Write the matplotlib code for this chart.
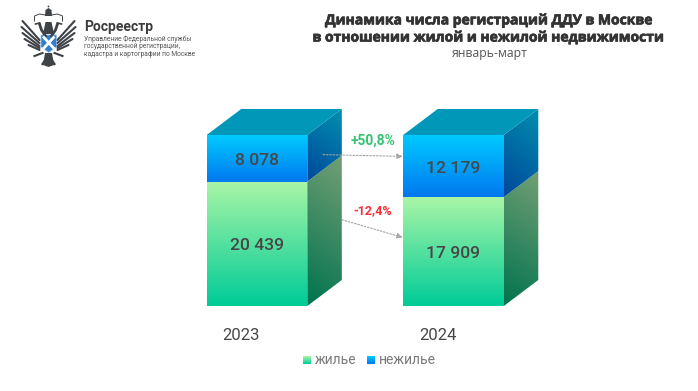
import numpy as np
import matplotlib
matplotlib.use('Agg')
import matplotlib.pyplot as plt
import matplotlib.patheffects as pe
from matplotlib.colors import LinearSegmentedColormap
from matplotlib.patches import Polygon, Circle

plt.rcParams['font.family'] = ['Roboto', 'DejaVu Sans']

years = ['2023', '2024']
housing = [20439, 17909]
non_housing = [8078, 12179]
labels_housing = ['20 439', '17 909']
labels_non_housing = ['8 078', '12 179']
# share of the column taken by housing, as drawn in the picture
housing_share = [0.728, 0.637]
changes = ['+50,8%', '-12,4%']
subtitle = 'январь-март'
title_lines = ['Динамика числа регистраций ДДУ в Москве',
               'в отношении жилой и нежилой недвижимости']
org_name = 'Росреестр'
org_lines = ['Управление Федеральной службы',
             'государственной регистрации,',
             'кадастра и картографии по Москве']

W, H = 698, 391
fig = plt.figure(figsize=(W / 100, H / 100), dpi=100, facecolor='white')

# overlay in pixels for the logo and the texts
over = fig.add_axes([0, 0, 1, 1], zorder=3)
over.set_xlim(0, W)
over.set_ylim(H, 0)
over.axis('off')
over.patch.set_alpha(0)

# bars axes: x = 0, 1 are the columns, y = 0..1 the column height
px_unit = 196.5
left = 257 - 0.5 * px_unit
bottom = 306
col_h = 171
ax = fig.add_axes([left / W, (H - bottom) / H, 2 * px_unit / W, col_h * 1.2 / H])
ax.set_xlim(-0.5, 1.5)
ax.set_ylim(0, 1.2)
ax.axis('off')

half = 50.3 / px_unit
dx = 34.5 / px_unit
dy = 26 / col_h


def grad_poly(pts, c_start, c_end, angle=0.0, z=2):
    # gradient clipped to a polygon; angle tilts it sideways
    pts = np.array(pts)
    x0, x1 = pts[:, 0].min(), pts[:, 0].max()
    y0, y1 = pts[:, 1].min(), pts[:, 1].max()
    xx, yy = np.meshgrid(np.linspace(0, 1, 60), np.linspace(0, 1, 120))
    g = (1 - angle) * yy + angle * (1 - xx)
    cmap = LinearSegmentedColormap.from_list('g', [c_start, c_end])
    im = ax.imshow(g, extent=[x0, x1, y0, y1], aspect='auto', cmap=cmap,
                   vmin=0, vmax=1, zorder=z, interpolation='bilinear')
    p = Polygon(pts, closed=True, transform=ax.transData, fc='none', ec='none')
    ax.add_patch(p)
    im.set_clip_path(p)


for i in range(len(years)):
    xl, xr = i - half, i + half
    s = housing_share[i]
    # front faces
    grad_poly([(xl, 0), (xr, 0), (xr, s), (xl, s)], '#A9F5A6', '#00CC98')
    grad_poly([(xl, s), (xr, s), (xr, 1), (xl, 1)], '#00CBFF', '#0078F0')
    # side faces
    grad_poly([(xr, 0), (xr + dx, dy), (xr + dx, s + dy), (xr, s)], '#739F74', '#00734F', angle=0.15)
    grad_poly([(xr, s), (xr + dx, s + dy), (xr + dx, 1 + dy), (xr, 1)], '#008FAF', '#00479A', angle=0.25)
    # top face
    ax.add_patch(Polygon([(xl, 1), (xr, 1), (xr + dx, 1 + dy), (xl + dx, 1 + dy)],
                         fc='#0097B9', ec='none', zorder=2))
    ax.text(i, s / 2 - 0.01, labels_housing[i], ha='center', va='center',
            fontsize=12.6, fontweight='medium', color='#474747', zorder=4)
    ax.text(i, (s + 1) / 2 - 0.012, labels_non_housing[i], ha='center', va='center',
            fontsize=12.6, fontweight='medium', color='#474747', zorder=4)
    ax.text(i - 0.08, -0.17, years[i], ha='center', va='center', fontsize=12,
            color='#474747', zorder=4, clip_on=False)

# arrows between the columns
arrow = dict(arrowstyle='-|>,head_length=0.35,head_width=0.15', color='#a5a5a5',
             linestyle=(0, (1.5, 1.5)), lw=0.8, shrinkA=0, shrinkB=0)
x_a, x_b = half + 0.08, 1 - half
ax.annotate('', xy=(x_b, 0.875), xytext=(x_a, 0.885), arrowprops=arrow, zorder=5)
ax.annotate('', xy=(x_b, 0.40), xytext=(half + dx, 0.505), arrowprops=arrow, zorder=5)
over.text(373.5, 141, changes[0], ha='center', va='center', fontsize=10,
          fontweight='bold', color='#35C473')
over.text(373, 211, changes[1], ha='center', va='center', fontsize=9,
          fontweight='bold', color='#F5303A')

# legend
leg_y = 360.5
for x0, c1, c2, name in [(303, '#A9F5A6', '#00CC98', 'жилье'), (367, '#00CBFF', '#0078F0', 'нежилье')]:
    cmap = LinearSegmentedColormap.from_list('l', [c1, c2])
    over.imshow(np.linspace(0, 1, 20).reshape(-1, 1), extent=[x0, x0 + 8, leg_y + 4, leg_y - 4],
                cmap=cmap, aspect='auto', zorder=2)
    over.text(x0 + 12, leg_y - 0.5, name, ha='left', va='center', fontsize=10, color='#7a7a7a')
over.set_xlim(0, W)
over.set_ylim(H, 0)

# titles
stroke = [pe.withStroke(linewidth=0.5, foreground='#333333')]
over.text(489.5, 20.5, title_lines[0], ha='center', va='center', fontsize=10, fontweight='bold',
          color='#333333', family='Open Sans', path_effects=stroke)
over.text(489.5, 37.5, title_lines[1], ha='center', va='center', fontsize=10, fontweight='bold',
          color='#333333', family='Open Sans', path_effects=stroke)
over.text(489.5, 54, subtitle, ha='center', va='center', fontsize=8.8, color='#555555',
          family='Open Sans')

# logo text
over.text(84, 26.5, org_name, ha='left', va='center', fontsize=10, fontweight='bold', color='#3c3c3c')
for k, line in enumerate(org_lines):
    over.text(84, 39 + k * 7.6, line, ha='left', va='center', fontsize=4.8, color='#555555')

# logo: simplified double headed eagle
dark = '#3f4347'
cx = 48.5
for sgn in (-1, 1):
    # wing feathers
    for xa, ya, xb, yb in [(9, 40, 26, 21), (9, 43, 27, 27), (9, 46, 26, 33),
                           (9, 48, 24, 39), (9, 50, 20, 45)]:
        over.plot([cx + sgn * xa, cx + sgn * xb], [ya, yb], color=dark, lw=1.5, solid_capstyle='round')
    # head and neck
    over.plot([cx + sgn * 3, cx + sgn * 7, cx + sgn * 9], [36, 30, 24], color=dark, lw=2.0)
    over.plot([cx + sgn * 9, cx + sgn * 13], [23, 24], color=dark, lw=1.2)
    # crown arcs and legs
    over.plot([cx + sgn * 3, cx + sgn * 9, cx + sgn * 14, cx + sgn * 14],
              [15, 14, 16, 21], color=dark, lw=0.7)
    over.plot([cx + sgn * 6, cx + sgn * 14], [53, 56], color=dark, lw=1.5)
    over.plot([cx + sgn * 2, cx + sgn * 6], [58, 64], color=dark, lw=1.6)
over.add_patch(Polygon([(45.5, 10), (48.5, 8), (51.5, 10), (52, 16), (45, 16)], fc=dark, ec='none'))
over.add_patch(Circle((48.5, 6.5), 0.9, fc=dark, ec='none'))
over.add_patch(Polygon([(45, 53), (52, 53), (54, 65), (48.5, 67), (43, 65)], fc=dark, ec='none'))
over.add_patch(Polygon([(45.5, 22), (51.5, 22), (54, 34), (43, 34)], fc=dark, ec='none'))
over.add_patch(Polygon([(41, 35), (56.5, 35), (56.5, 47), (48.7, 52.5), (41, 47)],
                       fc='#2F7FD0', ec='#9fc4ea', lw=0.6))
over.plot([44, 53.5], [37.5, 48], color='white', lw=2.0)
over.plot([53.5, 44], [37.5, 48], color='white', lw=2.0)

fig.savefig('out.png', dpi=100)
